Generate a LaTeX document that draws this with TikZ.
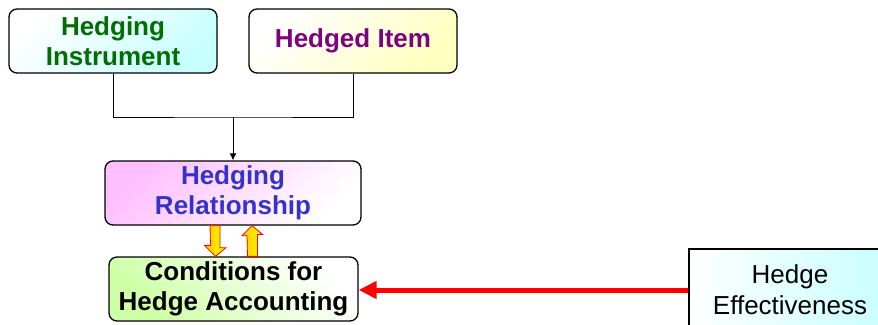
\documentclass[tikz,border=0pt]{standalone}
\usepackage{fontspec}
\setmainfont{Liberation Sans}
\usetikzlibrary{arrows.meta,positioning,calc}
\definecolor{instrgreen}{RGB}{0,110,0}
\definecolor{itempurple}{RGB}{128,0,128}
\definecolor{relblue}{RGB}{51,51,204}
\tikzset{
  box/.style={draw, line width=1.3pt, rounded corners=8pt, align=center, inner sep=0pt,
    minimum height=64pt, font=\fontsize{26}{30}\selectfont\bfseries},
  blockarr/.style={draw=red, line width=0.8pt, left color=orange!45!yellow, right color=yellow},
}

\begin{document}
\begin{tikzpicture}[x=1pt,y=-1pt]
\useasboundingbox (0,0) rectangle (878,324);
\clip (0,0) rectangle (878,324);

\node[box, minimum width=208pt, top color=white, bottom color=cyan!22, shading angle=45,
  text=instrgreen] (instr) at (113,41) {Hedging\\Instrument};
\node[box, minimum width=208pt, top color=white, bottom color=yellow!25, shading angle=45,
  text=itempurple] (item) at (353,41) {Hedged Item};
\node[box, minimum width=256pt, top color=magenta!25, bottom color=white, shading angle=45,
  text=relblue] (rel) at (233,193) {Hedging\\Relationship};
\node[box, minimum width=249pt, top color=white, bottom color=green!55!yellow!35, shading angle=-45]
  (cond) at (233.5,289) {Conditions for\\Hedge Accounting};
\node[draw, line width=1.3pt, align=center, inner sep=0pt, minimum width=202pt, minimum height=82pt,
  left color=white, right color=cyan!22, font=\fontsize{26}{31}\selectfont]
  (eff) at (790,290) {Hedge\\Effectiveness};

\coordinate (join) at (233,117);
\draw[line width=1pt] (instr.south) |- (join) -| (item.south);
\draw[line width=1pt, -{Latex[length=7pt,width=7pt]}] (join) -- (rel.north);

% block arrows between relationship and conditions
\path[blockarr] ($(rel.south)+(-23,0)$) -- ++(10,0) -- ++(0,22) -- ++(6,0)
  -- ($(cond.north)+(-18,0)$) -- ++(-11,-11) -- ++(6,0) -- cycle;
\path[blockarr] ($(cond.north)+(14,0)$) -- ++(10,0) -- ++(0,-22) -- ++(5,0)
  -- ($(rel.south)+(19,0)$) -- ++(-10,10) -- ++(5,0) -- cycle;

\draw[red, line width=5pt, -{Triangle[length=18pt,width=17pt]}] (eff.west) -- (eff.west -| cond.east);
\end{tikzpicture}
\end{document}
